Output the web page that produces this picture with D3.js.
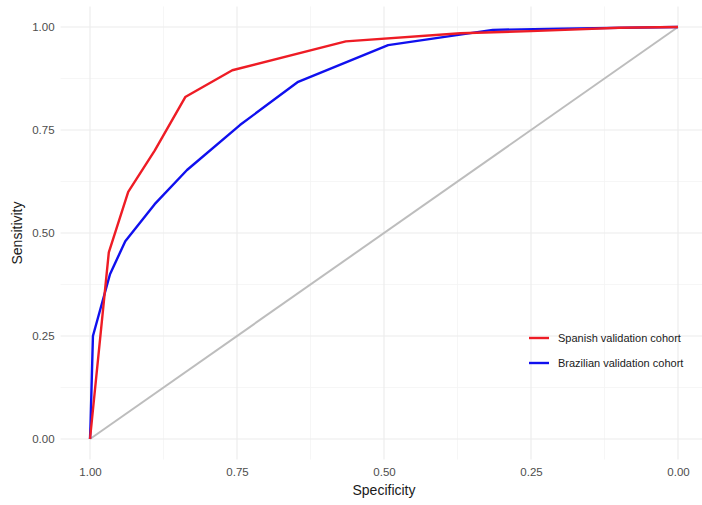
<!DOCTYPE html>
<html>
<head>
<meta charset="utf-8">
<script src="https://cdn.jsdelivr.net/npm/d3@7"></script>
<style>
  body { margin: 0; background: #fff; }
  text { font-family: "Liberation Sans", Arial, sans-serif; }
</style>
</head>
<body>
<script>
// ROC curves, values
var seriesNames = ["Spanish validation cohort", "Brazilian validation cohort"];
var seriesColors = ["#ee1c25", "#1010ee"];

var spanishSpec = [1.00, 0.968, 0.935, 0.89, 0.838, 0.758, 0.565, 0.37, 0.25, 0.10, 0.00];
var spanishSens = [0.00, 0.453, 0.60, 0.70, 0.83, 0.895, 0.965, 0.985, 0.99, 0.998, 1.00];

var brazilSpec = [1.00, 0.999, 0.995, 0.966, 0.94, 0.89, 0.835, 0.745, 0.646, 0.493, 0.315, 0.20, 0.00];
var brazilSens = [0.00, 0.04, 0.25, 0.40, 0.48, 0.57, 0.653, 0.762, 0.867, 0.956, 0.993, 0.996, 1.00];

var xTicks = [1.00, 0.75, 0.50, 0.25, 0.00];
var yTicks = [0.00, 0.25, 0.50, 0.75, 1.00];
var minorTicks = [0.125, 0.375, 0.625, 0.875];

var width = 702, height = 505;
var svg = d3.select("body").append("svg")
    .attr("width", width)
    .attr("height", height);

// specificity runs right to left
var x = d3.scaleLinear().domain([1, 0]).range([90, 678]);
var y = d3.scaleLinear().domain([0, 1]).range([439, 27]);
var xPanel = [x(1.05), x(-0.05)];
var yPanel = [y(-0.05), y(1.05)];

var grid = svg.append("g");
// minor grid
grid.selectAll(".vminor").data(minorTicks).enter().append("line")
    .attr("x1", d => x(d)).attr("x2", d => x(d))
    .attr("y1", yPanel[0]).attr("y2", yPanel[1])
    .attr("stroke", "#f4f4f4").attr("stroke-width", 0.8);
grid.selectAll(".hminor").data(minorTicks).enter().append("line")
    .attr("y1", d => y(d)).attr("y2", d => y(d))
    .attr("x1", xPanel[0]).attr("x2", xPanel[1])
    .attr("stroke", "#f4f4f4").attr("stroke-width", 0.8);
// major grid
grid.selectAll(".vmajor").data(xTicks).enter().append("line")
    .attr("x1", d => x(d)).attr("x2", d => x(d))
    .attr("y1", yPanel[0]).attr("y2", yPanel[1])
    .attr("stroke", "#ebebeb").attr("stroke-width", 1.1);
grid.selectAll(".hmajor").data(yTicks).enter().append("line")
    .attr("y1", d => y(d)).attr("y2", d => y(d))
    .attr("x1", xPanel[0]).attr("x2", xPanel[1])
    .attr("stroke", "#ebebeb").attr("stroke-width", 1.1);

// diagonal reference
svg.append("line")
    .attr("x1", x(1)).attr("y1", y(0))
    .attr("x2", x(0)).attr("y2", y(1))
    .attr("stroke", "#bdbdbd").attr("stroke-width", 2);

var line = d3.line().x(d => x(d[0])).y(d => y(d[1]));
var curves = [
  d3.zip(brazilSpec, brazilSens),
  d3.zip(spanishSpec, spanishSens)
];
var curveColors = [seriesColors[1], seriesColors[0]];

svg.selectAll(".roc").data(curves).enter().append("path")
    .attr("class", "roc")
    .attr("d", line)
    .attr("fill", "none")
    .attr("stroke", (d, i) => curveColors[i])
    .attr("stroke-width", 2.4)
    .attr("stroke-linejoin", "round");

// axes (text only, like ggplot theme_minimal)
var xAxis = svg.append("g")
    .attr("transform", "translate(0," + (yPanel[0] + 2) + ")")
    .call(d3.axisBottom(x).tickValues(xTicks).tickFormat(d3.format(".2f")).tickSize(0).tickPadding(6));
var yAxis = svg.append("g")
    .attr("transform", "translate(" + (xPanel[0] - 2) + ",0)")
    .call(d3.axisLeft(y).tickValues(yTicks).tickFormat(d3.format(".2f")).tickSize(0).tickPadding(4));
[xAxis, yAxis].forEach(function(a) {
  a.select(".domain").remove();
  a.selectAll("text").attr("fill", "#4d4d4d").style("font-size", "11.5px");
});

svg.append("text")
    .attr("x", (x(1) + x(0)) / 2).attr("y", 495)
    .attr("text-anchor", "middle")
    .style("font-size", "14px").attr("fill", "#1a1a1a")
    .text("Specificity");
svg.append("text")
    .attr("transform", "translate(22," + ((y(0) + y(1)) / 2) + ") rotate(-90)")
    .attr("text-anchor", "middle")
    .style("font-size", "14px").attr("fill", "#1a1a1a")
    .text("Sensitivity");

// legend
var legend = svg.append("g").attr("transform", "translate(529,338)");
legend.selectAll(".key").data(seriesNames).enter().append("g")
    .attr("transform", (d, i) => "translate(0," + i * 25 + ")")
    .each(function(d, i) {
      var g = d3.select(this);
      g.append("line").attr("x1", 0).attr("x2", 20).attr("y1", 0).attr("y2", 0)
          .attr("stroke", seriesColors[i]).attr("stroke-width", 2.4);
      g.append("text").attr("x", 29).attr("y", 4)
          .style("font-size", "11px").attr("fill", "#1a1a1a")
          .text(d);
    });
</script>
</body>
</html>
